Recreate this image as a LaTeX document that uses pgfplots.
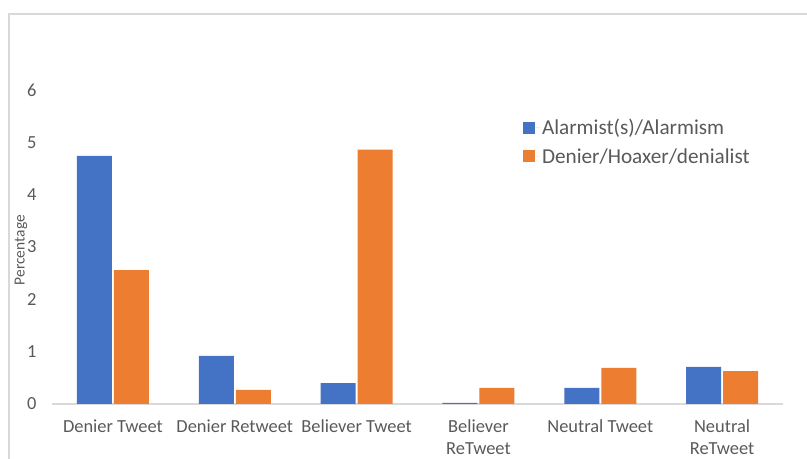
\documentclass[border=0pt]{standalone}
\usepackage{pgfplots}
\pgfplotsset{compat=1.18}
\usepackage{fontspec}
\setmainfont{Carlito}
\definecolor{cblue}{HTML}{4472C4}
\definecolor{corange}{HTML}{ED7D31}
\definecolor{txt}{HTML}{595959}
\definecolor{grid}{HTML}{D9D9D9}
\begin{document}
\begin{tikzpicture}[x=1bp,y=1bp]
\useasboundingbox (0,0) rectangle (807,459);
\draw[grid,line width=1.2bp] (9,0) -- (9,445) -- (807,445);
\begin{axis}[
  at={(52bp,55bp)}, anchor=south west,
  scale only axis, width=731bp, height=314bp,
  ybar, bar width=35bp, bar shift auto,
  xmin=-0.5, xmax=5.5, ymin=0, ymax=6,
  axis line style={draw=none},
  ytick={0,1,2,3,4,5,6},
  xtick={0,1,2,3,4,5},
  xticklabels={Denier Tweet,Denier Retweet,Believer Tweet,Believer\\ReTweet,Neutral Tweet,Neutral\\ReTweet},
  xticklabel style={align=center, font=\fontsize{18.5}{22.5}\selectfont, text=txt, yshift=-12bp},
  yticklabel style={font=\fontsize{18.5}{20}\selectfont, text=txt, xshift=-12bp},
  /pgf/number format/assume math mode=true,
  major tick length=0pt,
  clip=false,
  ylabel={Percentage},
  every axis y label/.style={at={(axis description cs:-0.0424,0.49)}, rotate=90, anchor=center, font=\fontsize{15.5}{18}\selectfont, text=txt},
  legend style={draw=none, fill=none, at={(axis description cs:0.64,0.92)}, anchor=north west, font=\fontsize{21.3}{25}\selectfont, text=txt, row sep=8bp, legend cell align=left},
  legend image code/.code={\fill[#1] (0bp,-6bp) rectangle (12bp,6bp); \path (12bp,0bp) -- (17bp,0bp);},
]
\draw[grid, line width=1.2bp] (axis cs:-0.5,0) -- (axis cs:5.5,0);
\addplot[fill=cblue, draw=none] coordinates {(0,4.74) (1,0.92) (2,0.40) (3,0.02) (4,0.31) (5,0.71)};
\addplot[fill=corange, draw=none] coordinates {(0,2.56) (1,0.27) (2,4.86) (3,0.31) (4,0.69) (5,0.63)};
\legend{Alarmist(s)/Alarmism, Denier/Hoaxer/denialist}
\end{axis}
\end{tikzpicture}
\end{document}
